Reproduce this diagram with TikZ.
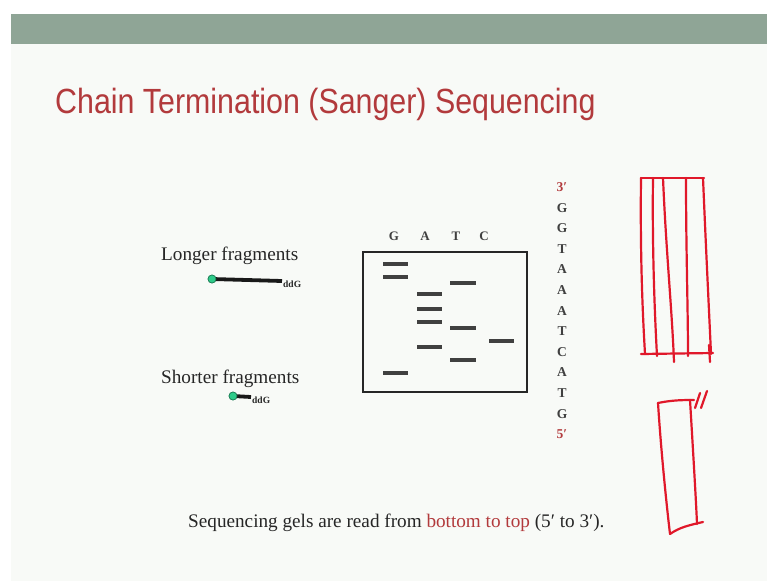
\documentclass[tikz,border=0pt]{standalone}
\usepackage{fontspec}
\setmainfont{Liberation Serif}
\newfontfamily\titlefont{Liberation Sans}
\definecolor{barcol}{HTML}{8FA596}
\definecolor{slidebg}{HTML}{F8FAF7}
\definecolor{titlered}{HTML}{B23A3C}
\definecolor{penred}{HTML}{E0182A}
\definecolor{dotgreen}{HTML}{2FCB8A}
\newcommand{\prm}{\char"2032}
\tikzset{
  band/.style={line width=3.2pt, draw=black!75},
  lanelabel/.style={font=\fontsize{13}{14}\selectfont\bfseries, text=black!75, inner sep=0pt},
  seqletter/.style={font=\fontsize{13.5}{14}\selectfont\bfseries, text=black!75, inner sep=0pt},
  primelabel/.style={font=\fontsize{13.5}{14}\selectfont\bfseries, text=titlered, inner sep=0pt},
  bodytext/.style={font=\fontsize{19.2}{21}\selectfont, text=black!85, inner sep=0pt, anchor=base west},
  frag/.style={line width=3.8pt, draw=black!90},
  tip/.style={circle, fill=dotgreen, draw=dotgreen!60!black, line width=0.6pt, minimum size=8pt, inner sep=0pt},
  ddg/.style={font=\fontsize{9.5}{10}\selectfont\bfseries, text=black!85, inner sep=0pt, anchor=west},
  pen/.style={draw=penred, line width=2.2pt, line cap=round, line join=round}
}
\begin{document}
\begin{tikzpicture}[x=1pt,y=-1pt]
\useasboundingbox (0,0) rectangle (767,581);
\fill[white] (0,0) rectangle (767,581);
\fill[slidebg] (11,44) rectangle (767,581);
\fill[barcol] (11,14) rectangle (767,44);
% title
\node[font=\titlefont\fontsize{35}{38}\selectfont, text=titlered, anchor=base west, inner sep=0pt, xscale=0.868] (title) at (55,113) {Chain Termination (Sanger) Sequencing};
% fragments
\node[bodytext] (longer) at (161,260) {Longer fragments};
\node[tip] (ltip) at (212,279) {};
\coordinate (lend) at (282,281);
\draw[frag] (ltip.center) -- (lend);
\node[tip] at (ltip) {};
\node[ddg] (lddg) at (283,284) {ddG};
\node[bodytext] (shorter) at (161,383) {Shorter fragments};
\node[tip] (stip) at (233,396) {};
\coordinate (send) at (251,397);
\draw[frag] (stip.center) -- (send);
\node[tip] at (stip) {};
\node[ddg] (sddg) at (252,400) {ddG};
% gel
\node[draw=black!85, line width=2pt, minimum width=164pt, minimum height=140pt, inner sep=0pt] (gel) at (445,322) {};
\node[lanelabel] (lG) at (394,236) {G};
\node[lanelabel] (lA) at (425,236) {A};
\node[lanelabel] (lT) at (456,236) {T};
\node[lanelabel] (lC) at (484,236) {C};
\foreach \y in {264,277,373} \draw[band] (383,\y) -- (408,\y);
\foreach \y in {294,309,322,347} \draw[band] (417,\y) -- (442,\y);
\foreach \y in {283,328,360} \draw[band] (450,\y) -- (476,\y);
\foreach \y in {341} \draw[band] (489,\y) -- (514,\y);
% sequence column
\node[primelabel] (p3) at (562,187) {3\prm};
\foreach \l [count=\i] in {G,G,T,A,A,A,T,C,A,T,G}
  \node[seqletter] (s\i) at (562,187+20.6*\i) {\l};
\node[primelabel] (p5) at (562,434) {5\prm};
% bottom sentence
\node[bodytext] (note) at (188,527) {Sequencing gels are read from \textcolor{titlered}{bottom to top} (5\prm{} to 3\prm).};
% hand-drawn gel sketch (top)
\draw[pen] (641,178) -- (704,178);
\draw[pen] (641,178) .. controls (640,260) and (643,320) .. (645,354);
\draw[pen] (703,178) .. controls (706,250) and (709,310) .. (711,354);
\draw[pen] (641,354) -- (713,353);
\draw[pen] (653,178) .. controls (652,250) and (655,320) .. (657,356);
\draw[pen] (663,178) .. controls (666,250) and (672,310) .. (674,362);
\draw[pen] (686,178) .. controls (686,250) and (688,310) .. (688,356);
\draw[pen] (709,345) -- (710,362);
% hand-drawn gel sketch (bottom)
\draw[pen] (658,403) .. controls (672,400) and (684,400) .. (694,400);
\draw[pen] (658,403) .. controls (661,450) and (666,500) .. (670,534);
\draw[pen] (690,400) .. controls (693,450) and (696,500) .. (697,524);
\draw[pen] (670,534) .. controls (680,527) and (690,525) .. (703,522);
\draw[pen] (695,408) -- (700,393);
\draw[pen] (701,408) -- (707,391);
\end{tikzpicture}
\end{document}
